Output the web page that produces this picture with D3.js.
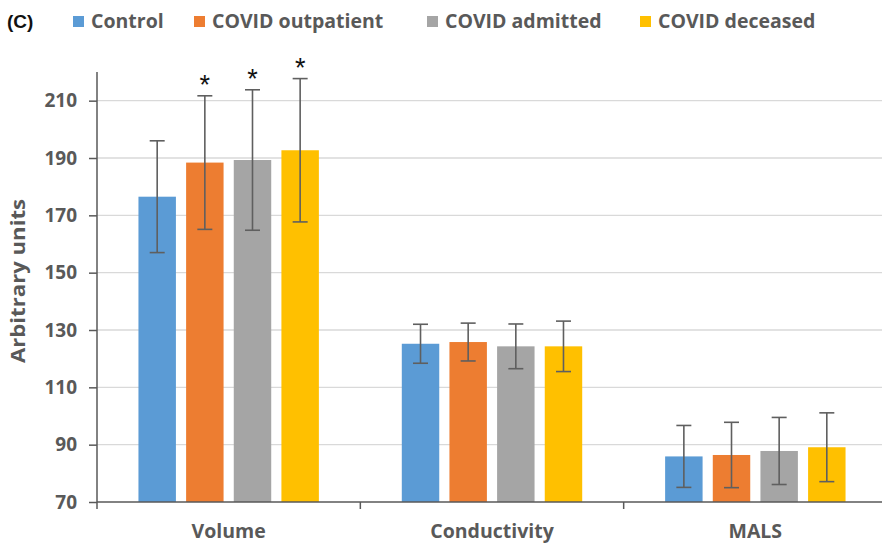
<!DOCTYPE html>
<html>
<head>
<meta charset="utf-8">
<script src="https://cdn.jsdelivr.net/npm/d3@7"></script>
<style>
  html, body { margin: 0; padding: 0; background: #fff; }
  svg { display: block; }
  text { font-family: "Open Sans", Lato, sans-serif; }
</style>
</head>
<body>
<svg id="chart" width="882" height="544"></svg>
<script>
// Measurement categories and patient groups
const categories = ["Volume", "Conductivity", "MALS"];
const groups = ["Control", "COVID outpatient", "COVID admitted", "COVID deceased"];
const groupColors = ["#5B9BD5", "#ED7D31", "#A5A5A5", "#FFC000"];

// Mean values per group, one entry per category
const control     = [176.5, 125.2, 85.9];
const outpatient  = [188.4, 125.8, 86.4];
const admitted    = [189.3, 124.3, 87.8];
const deceased    = [192.7, 124.3, 89.1];

// Standard deviations (error bar half-lengths)
const controlSD    = [19.5, 6.8, 10.8];
const outpatientSD = [23.3, 6.6, 11.4];
const admittedSD   = [24.5, 7.8, 11.7];
const deceasedSD   = [25.0, 8.8, 12.0];

// Significance markers (per group, per category)
const controlSig    = [false, false, false];
const outpatientSig = [true, false, false];
const admittedSig   = [true, false, false];
const deceasedSig   = [true, false, false];

const yTicks = [70, 90, 110, 130, 150, 170, 190, 210];

const seriesValues = [control, outpatient, admitted, deceased];
const seriesSD = [controlSD, outpatientSD, admittedSD, deceasedSD];
const seriesSig = [controlSig, outpatientSig, admittedSig, deceasedSig];

const rows = [];
categories.forEach((cat, ci) => {
  groups.forEach((g, gi) => {
    rows.push({
      category: cat, group: g,
      value: seriesValues[gi][ci],
      sd: seriesSD[gi][ci],
      sig: seriesSig[gi][ci],
      color: groupColors[gi]
    });
  });
});

const svg = d3.select("#chart");
const plotLeft = 97, plotRight = 887, plotTop = 72, plotBottom = 502;

const x = d3.scaleBand().domain(categories).range([plotLeft, plotRight]).padding(0);
const xInner = d3.scaleBand().domain(groups).range([0, x.bandwidth()])
  .paddingInner(0.214).paddingOuter(0.87);
const y = d3.scaleLinear().domain([70, 220]).range([plotBottom, plotTop]);

const axisColor = "#595959";
const textColor = "#595959";

// Horizontal gridlines
svg.append("g")
  .selectAll("line")
  .data(yTicks.slice(1))
  .join("line")
  .attr("x1", plotLeft).attr("x2", 882)
  .attr("y1", d => y(d)).attr("y2", d => y(d))
  .attr("stroke", "#d9d9d9").attr("stroke-width", 1.4);

// Bars
svg.append("g")
  .selectAll("rect")
  .data(rows)
  .join("rect")
  .attr("x", d => x(d.category) + xInner(d.group))
  .attr("width", xInner.bandwidth())
  .attr("y", d => y(d.value))
  .attr("height", d => y(70) - y(d.value))
  .attr("fill", d => d.color);

// Error bars
const capHalf = 7.5;
const err = svg.append("g").attr("stroke", "#5f5f5f").attr("stroke-width", 1.6);
rows.forEach(d => {
  const cx = x(d.category) + xInner(d.group) + xInner.bandwidth() / 2;
  const yHi = y(d.value + d.sd), yLo = y(d.value - d.sd);
  err.append("line").attr("x1", cx).attr("x2", cx).attr("y1", yHi).attr("y2", yLo);
  err.append("line").attr("x1", cx - capHalf).attr("x2", cx + capHalf).attr("y1", yHi).attr("y2", yHi);
  err.append("line").attr("x1", cx - capHalf).attr("x2", cx + capHalf).attr("y1", yLo).attr("y2", yLo);
});

// Significance asterisks
svg.append("g")
  .selectAll("text")
  .data(rows.filter(d => d.sig))
  .join("text")
  .attr("x", d => x(d.category) + xInner(d.group) + xInner.bandwidth() / 2)
  .attr("y", d => y(d.value + d.sd) - 2)
  .attr("text-anchor", "middle")
  .style("font-family", "'Liberation Sans', Arial, sans-serif")
  .style("font-size", "27px")
  .attr("fill", "#111")
  .text("*");

// Y axis
const yAxis = svg.append("g")
  .attr("transform", `translate(${plotLeft},0)`)
  .call(d3.axisLeft(y).tickValues(yTicks).tickSize(8).tickPadding(12));
yAxis.select(".domain").attr("stroke", axisColor).attr("stroke-width", 1.5)
  .attr("d", `M0,${plotBottom}V${plotTop}`);
yAxis.selectAll(".tick line").attr("stroke", axisColor).attr("stroke-width", 1.5);
yAxis.selectAll(".tick text")
  .attr("fill", textColor)
  .style("font-family", "'Open Sans', sans-serif")
  .style("font-size", "19px")
  .style("font-weight", "bold");

// X axis with category dividers
const xAxis = svg.append("g").attr("transform", `translate(0,${plotBottom})`);
xAxis.append("line").attr("x1", plotLeft).attr("x2", 882).attr("y1", 0).attr("y2", 0)
  .attr("stroke", axisColor).attr("stroke-width", 1.5);
xAxis.selectAll("line.div")
  .data(categories)
  .join("line")
  .attr("class", "div")
  .attr("x1", d => x(d)).attr("x2", d => x(d))
  .attr("y1", 0).attr("y2", 7)
  .attr("stroke", axisColor).attr("stroke-width", 1.5);
xAxis.selectAll("text")
  .data(categories)
  .join("text")
  .attr("x", d => x(d) + x.bandwidth() / 2)
  .attr("y", 36)
  .attr("text-anchor", "middle")
  .attr("fill", textColor)
  .style("font-size", "19.5px")
  .style("font-weight", "bold")
  .text(d => d);

// Y axis title
svg.append("text")
  .attr("transform", `translate(25,281) rotate(-90)`)
  .attr("text-anchor", "middle")
  .attr("fill", textColor)
  .style("font-size", "20px")
  .style("font-weight", "bold")
  .attr("textLength", 164)
  .attr("lengthAdjust", "spacingAndGlyphs")
  .text("Arbitrary units");

// Panel label
svg.append("text")
  .attr("x", 7).attr("y", 28)
  .style("font-family", "'Liberation Sans', Arial, sans-serif")
  .style("font-size", "19px")
  .style("font-weight", "bold")
  .attr("fill", "#111")
  .text("(C)");

// Legend
const legendX = [73, 194, 427, 640];
const legend = svg.append("g");
groups.forEach((g, i) => {
  const item = legend.append("g").attr("transform", `translate(${legendX[i]},0)`);
  item.append("rect").attr("x", 0).attr("y", 16).attr("width", 11).attr("height", 11)
    .attr("fill", groupColors[i]);
  item.append("text").attr("x", 18).attr("y", 28)
    .attr("fill", textColor)
    .style("font-size", "19.5px")
    .style("font-weight", "bold")
    .text(g);
});
</script>
</body>
</html>
